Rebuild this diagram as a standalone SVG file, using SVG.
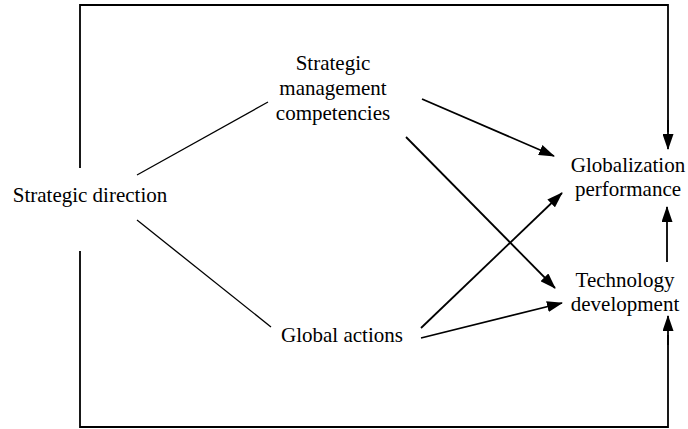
<svg xmlns="http://www.w3.org/2000/svg" width="688" height="429" viewBox="0 0 688 429">
<style>
  text { font-family: "Liberation Serif", "Times New Roman", Times, serif; font-size: 21px; fill: #000; text-anchor: middle; }
  .thin { stroke: #000; stroke-width: 1.3; fill: none; }
  .arr { stroke: #000; stroke-width: 1.8; fill: none; marker-end: url(#ah); }
  .frame { stroke: #000; stroke-width: 1.8; fill: none; }
</style>
<defs>
  <marker id="ah" markerUnits="userSpaceOnUse" markerWidth="16" markerHeight="11" refX="15" refY="5.5" orient="auto">
    <path d="M0,0 L16,5.5 L0,11 z" fill="#000"/>
  </marker>
</defs>
<rect width="688" height="429" fill="#fff"/>
<g id="connectors">
  <polyline class="frame" points="80,168 80,5 668,5 668,132"/>
  <line class="arr" x1="668" y1="120" x2="668" y2="149"/>
  <polyline class="frame" points="80,251 80,427 668,427 668,335"/>
  <line class="arr" x1="668" y1="345" x2="668" y2="316"/>
  <line class="thin" x1="137" y1="175" x2="268" y2="102"/>
  <line class="thin" x1="137" y1="220" x2="271" y2="327"/>
  <line class="arr" x1="422" y1="99" x2="554" y2="156"/>
  <line class="arr" x1="406" y1="137" x2="555" y2="288"/>
  <line class="arr" x1="421" y1="328" x2="562" y2="193"/>
  <line class="arr" x1="421" y1="338" x2="562" y2="303"/>
  <line class="arr" x1="667" y1="262" x2="667" y2="207"/>
</g>
<g id="strategic-direction">
  <text x="90" y="202">Strategic direction</text>
</g>
<g id="strategic-management-competencies">
  <text x="333" y="70">Strategic</text>
  <text x="333" y="95">management</text>
  <text x="333" y="120">competencies</text>
</g>
<g id="global-actions">
  <text x="342" y="342">Global actions</text>
</g>
<g id="globalization-performance">
  <text x="628" y="172">Globalization</text>
  <text x="628" y="196">performance</text>
</g>
<g id="technology-development">
  <text x="625" y="287">Technology</text>
  <text x="625" y="311">development</text>
</g>
</svg>
